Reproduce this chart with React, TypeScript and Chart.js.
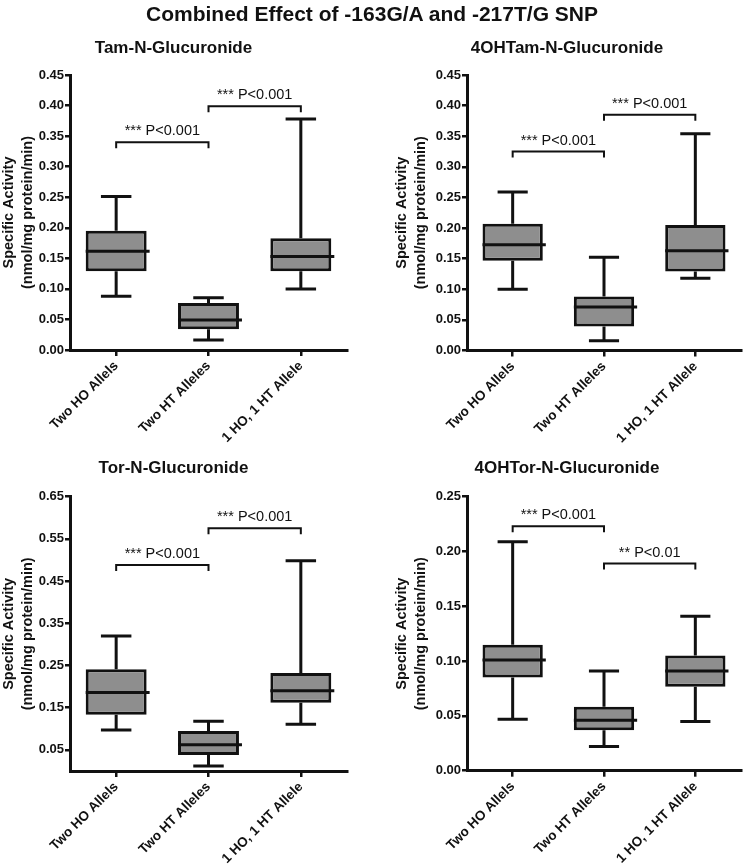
import React, { useEffect, useRef } from 'react';
import { Chart, registerables } from 'chart.js';

Chart.register(...registerables);

const FONT = '"Liberation Sans", Arial, Helvetica, sans-serif';

const mainTitle = 'Combined Effect of -163G/A and -217T/G SNP';
const categories = ['Two HO Allels', 'Two HT Alleles', '1 HO, 1 HT Allele'];
const yAxisTitle = ['Specific Activity', '(nmol/mg protein/min)'];

// Tam-N-Glucuronide
const tamMin = [0.088, 0.0164, 0.1];
const tamQ1 = [0.129, 0.034, 0.129];
const tamMedian = [0.1615, 0.049, 0.153];
const tamQ3 = [0.195, 0.077, 0.183];
const tamMax = [0.251, 0.0856, 0.378];
const tamTicks = [0, 0.05, 0.1, 0.15, 0.2, 0.25, 0.3, 0.35, 0.4, 0.45];
const tamBrackets = [
  { from: 0, to: 1, y: 0.34, label: '*** P<0.001' },
  { from: 1, to: 2, y: 0.399, label: '*** P<0.001' },
];

// 4OHTam-N-Glucuronide
const ohTamMin = [0.1, 0.016, 0.118];
const ohTamQ1 = [0.1465, 0.039, 0.129];
const ohTamMedian = [0.1727, 0.071, 0.163];
const ohTamQ3 = [0.207, 0.088, 0.205];
const ohTamMax = [0.259, 0.1525, 0.354];
const ohTamTicks = [0, 0.05, 0.1, 0.15, 0.2, 0.25, 0.3, 0.35, 0.4, 0.45];
const ohTamBrackets = [
  { from: 0, to: 1, y: 0.325, label: '*** P<0.001' },
  { from: 1, to: 2, y: 0.385, label: '*** P<0.001' },
];

// Tor-N-Glucuronide
const torMin = [0.097, 0.012, 0.111];
const torQ1 = [0.133, 0.038, 0.162];
const torMedian = [0.186, 0.062, 0.19];
const torQ3 = [0.241, 0.095, 0.232];
const torMax = [0.32, 0.118, 0.498];
const torTicks = [0.05, 0.15, 0.25, 0.35, 0.45, 0.55, 0.65];
const torBrackets = [
  { from: 0, to: 1, y: 0.488, label: '*** P<0.001' },
  { from: 1, to: 2, y: 0.575, label: '*** P<0.001' },
];

// 4OHTor-N-Glucuronide
const ohTorMin = [0.047, 0.022, 0.045];
const ohTorQ1 = [0.085, 0.037, 0.0766];
const ohTorMedian = [0.101, 0.046, 0.091];
const ohTorQ3 = [0.115, 0.0584, 0.105];
const ohTorMax = [0.209, 0.091, 0.141];
const ohTorTicks = [0, 0.05, 0.1, 0.15, 0.2, 0.25];
const ohTorBrackets = [
  { from: 0, to: 1, y: 0.223, label: '*** P<0.001' },
  { from: 1, to: 2, y: 0.189, label: '** P<0.01' },
];

type Bracket = { from: number; to: number; y: number; label: string };
type PanelCfg = {
  title: string;
  min: number[];
  q1: number[];
  median: number[];
  q3: number[];
  max: number[];
  ticks: number[];
  yMax: number;
  brackets: Bracket[];
  left: number;
  top: number;
  width: number;
  height: number;
  padLeft: number;
  padRight: number;
  padTop: number;
  titleGap: number;
  yWidth: number;
  xHeight: number;
};

const panels: PanelCfg[] = [
  {
    title: 'Tam-N-Glucuronide',
    min: tamMin, q1: tamQ1, median: tamMedian, q3: tamQ3, max: tamMax,
    ticks: tamTicks, yMax: 0.45, brackets: tamBrackets,
    left: 0, top: 0, width: 372, height: 460,
    padLeft: 0, padRight: 25, padTop: 38.3, titleGap: 16.3, yWidth: 70, xHeight: 110,
  },
  {
    title: '4OHTam-N-Glucuronide',
    min: ohTamMin, q1: ohTamQ1, median: ohTamMedian, q3: ohTamQ3, max: ohTamMax,
    ticks: ohTamTicks, yMax: 0.45, brackets: ohTamBrackets,
    left: 372, top: 0, width: 372, height: 460,
    padLeft: 21, padRight: 3, padTop: 38.3, titleGap: 16.3, yWidth: 74, xHeight: 109.5,
  },
  {
    title: 'Tor-N-Glucuronide',
    min: torMin, q1: torQ1, median: torMedian, q3: torQ3, max: torMax,
    ticks: torTicks, yMax: 0.65, brackets: torBrackets,
    left: 0, top: 430, width: 372, height: 437,
    padLeft: 0, padRight: 25, padTop: 27.7, titleGap: 18.6, yWidth: 70, xHeight: 96,
  },
  {
    title: '4OHTor-N-Glucuronide',
    min: ohTorMin, q1: ohTorQ1, median: ohTorMedian, q3: ohTorQ3, max: ohTorMax,
    ticks: ohTorTicks, yMax: 0.25, brackets: ohTorBrackets,
    left: 372, top: 430, width: 372, height: 437,
    padLeft: 21, padRight: 3, padTop: 27.7, titleGap: 18.6, yWidth: 74, xHeight: 96.3,
  },
];

function Panel({ cfg }: { cfg: PanelCfg }) {
  const ref = useRef<HTMLCanvasElement | null>(null);
  useEffect(() => {
    const canvas = ref.current;
    if (!canvas) return;

    const boxPlugin = {
      id: 'boxExtras',
      beforeDatasetsDraw(chart: any) {
        const { ctx } = chart;
        const y = chart.scales.y;
        const meta = chart.getDatasetMeta(0);
        ctx.save();
        ctx.strokeStyle = '#111';
        ctx.lineWidth = 3;
        ctx.lineCap = 'butt';
        meta.data.forEach((bar: any, i: number) => {
          const cx = bar.x;
          const capHalf = bar.width / 4;
          const pMax = y.getPixelForValue(cfg.max[i]);
          const pQ3 = y.getPixelForValue(cfg.q3[i]);
          const pQ1 = y.getPixelForValue(cfg.q1[i]);
          const pMin = y.getPixelForValue(cfg.min[i]);
          ctx.beginPath();
          ctx.moveTo(cx, pQ3);
          ctx.lineTo(cx, pMax);
          ctx.moveTo(cx - capHalf, pMax);
          ctx.lineTo(cx + capHalf, pMax);
          ctx.moveTo(cx, pQ1);
          ctx.lineTo(cx, pMin);
          ctx.moveTo(cx - capHalf, pMin);
          ctx.lineTo(cx + capHalf, pMin);
          ctx.stroke();
        });
        ctx.restore();
      },
      afterDatasetsDraw(chart: any) {
        const { ctx } = chart;
        const x = chart.scales.x;
        const y = chart.scales.y;
        const meta = chart.getDatasetMeta(0);
        ctx.save();
        ctx.strokeStyle = '#111';
        ctx.lineWidth = 3;
        meta.data.forEach((bar: any, i: number) => {
          const half = bar.width / 2;
          const pm = y.getPixelForValue(cfg.median[i]);
          ctx.beginPath();
          ctx.moveTo(bar.x - half, pm);
          ctx.lineTo(bar.x + half + 3, pm);
          ctx.stroke();
        });
        ctx.lineWidth = 2;
        ctx.fillStyle = '#111';
        ctx.font = `14.5px ${FONT}`;
        ctx.textAlign = 'center';
        ctx.textBaseline = 'middle';
        cfg.brackets.forEach((b) => {
          const x1 = x.getPixelForValue(b.from);
          const x2 = x.getPixelForValue(b.to);
          const py = y.getPixelForValue(b.y);
          ctx.beginPath();
          ctx.moveTo(x1, py + 6);
          ctx.lineTo(x1, py);
          ctx.lineTo(x2, py);
          ctx.lineTo(x2, py + 6);
          ctx.stroke();
          ctx.fillText(b.label, (x1 + x2) / 2, py - 11);
        });
        ctx.restore();
      },
    };

    const chart = new Chart(canvas, {
      type: 'bar',
      data: {
        labels: categories,
        datasets: [
          {
            data: cfg.q1.map((v, i) => [v, cfg.q3[i]]),
            backgroundColor: '#8e8e8e',
            borderColor: '#111',
            borderWidth: 3,
            borderSkipped: false,
            barPercentage: 0.66,
            categoryPercentage: 1,
          } as any,
        ],
      },
      options: {
        responsive: false,
        animation: false,
        events: [],
        layout: {
          padding: { left: cfg.padLeft, right: cfg.padRight, top: cfg.padTop, bottom: 0 },
        },
        plugins: {
          legend: { display: false },
          tooltip: { enabled: false },
          title: {
            display: true,
            text: cfg.title,
            color: '#111',
            font: { family: FONT, size: 17, weight: 'bold', lineHeight: 1.2 },
            padding: { top: 0, bottom: cfg.titleGap },
          },
        },
        scales: {
          x: {
            offset: true,
            grid: {
              display: true,
              offset: false,
              drawOnChartArea: false,
              drawTicks: true,
              tickLength: 6,
              color: '#111',
              lineWidth: 2.5,
            },
            border: { display: true, color: '#111', width: 3 },
            ticks: {
              color: '#111',
              font: { family: FONT, size: 13.5, weight: 'bold' },
              minRotation: 45,
              maxRotation: 45,
              autoSkip: false,
              padding: 2,
            },
            afterFit: (scale: any) => {
              scale.height = cfg.xHeight;
            },
          },
          y: {
            min: 0,
            max: cfg.yMax,
            grid: {
              display: true,
              drawOnChartArea: false,
              drawTicks: true,
              tickLength: 5,
              color: '#111',
              lineWidth: 2.5,
            },
            border: { display: true, color: '#111', width: 3 },
            ticks: {
              color: '#111',
              font: { family: FONT, size: 13, weight: 'bold' },
              padding: 1,
              callback: (v: any) => Number(v).toFixed(2),
            },
            afterBuildTicks: (scale: any) => {
              scale.ticks = cfg.ticks.map((v) => ({ value: v }));
            },
            title: {
              display: true,
              text: yAxisTitle,
              color: '#111',
              font: { family: FONT, size: 14.5, weight: 'bold', lineHeight: 1.35 },
              padding: { top: -1, bottom: 0 },
            },
            afterFit: (scale: any) => {
              scale.width = cfg.yWidth;
            },
          },
        },
      },
      plugins: [boxPlugin],
    });
    return () => chart.destroy();
  }, [cfg]);

  return (
    <canvas
      ref={ref}
      width={cfg.width}
      height={cfg.height}
      style={{ position: 'absolute', left: cfg.left, top: cfg.top, width: cfg.width, height: cfg.height }}
    />
  );
}

export default function App() {
  return (
    <div style={{ position: 'absolute', left: 0, top: 0, width: 744, height: 867, background: '#fff', overflow: 'hidden' }}>
      {panels.map((p) => (
        <Panel key={p.title} cfg={p} />
      ))}
      <div
        style={{
          position: 'absolute',
          left: 0,
          top: 2,
          width: 744,
          textAlign: 'center',
          fontFamily: FONT,
          fontWeight: 'bold',
          fontSize: 21,
          lineHeight: '24px',
          color: '#111',
          zIndex: 2,
        }}
      >
        {mainTitle}
      </div>
    </div>
  );
}
